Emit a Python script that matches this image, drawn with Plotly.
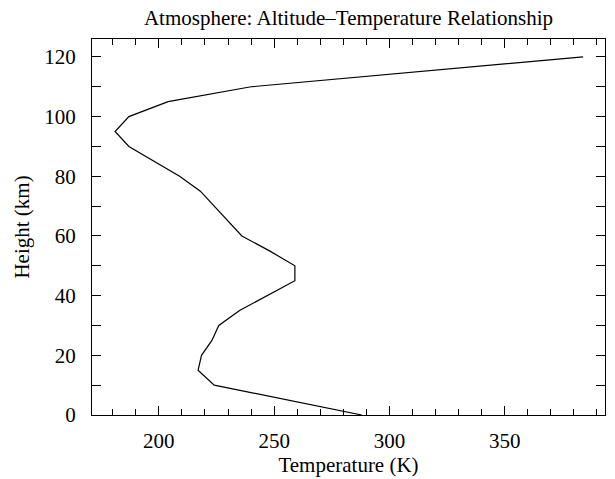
import plotly.graph_objects as go

# Data
height_km = [0, 10, 15, 20, 25, 30, 35, 40, 45, 50, 55, 60, 65, 70, 75, 80, 85, 90, 95, 100, 105, 110, 120]
temperature_k = [288, 224, 217, 218.5, 223, 226, 235, 247, 259, 259, 248, 236, 230, 224, 218, 209, 198, 187, 181, 187, 204, 240, 384]

x_tick_vals = [200, 250, 300, 350]
y_tick_vals = [0, 20, 40, 60, 80, 100, 120]

FONT = "Liberation Serif, Times New Roman, serif"

fig = go.Figure()
fig.add_trace(go.Scatter(
    x=temperature_k, y=height_km, mode="lines",
    line=dict(color="black", width=1.2), showlegend=False,
    hoverinfo="skip",
))

axis_common = dict(
    showgrid=False, zeroline=False, showline=True, linecolor="black",
    linewidth=1, mirror="allticks", ticks="inside", ticklen=9, tickwidth=1,
    tickcolor="black", tickfont=dict(family=FONT, size=21, color="black"),
)

fig.update_xaxes(
    range=[171, 393.5], tickvals=x_tick_vals,
    minor=dict(dtick=10, tick0=0, ticks="inside", ticklen=6, tickcolor="black", tickwidth=1, showgrid=False),
    title=dict(text="Temperature (K)", font=dict(family=FONT, size=21, color="black"), standoff=2),
    ticklabelstandoff=7,
    **axis_common,
)
fig.update_yaxes(
    range=[0, 126], tickvals=y_tick_vals,
    minor=dict(dtick=10, tick0=0, ticks="inside", ticklen=9, tickcolor="black", tickwidth=1, showgrid=False),
    title=dict(text="Height (km)", font=dict(family=FONT, size=21, color="black"), standoff=8),
    ticklabelstandoff=11,
    **axis_common,
)

fig.update_layout(
    width=615, height=479,
    margin=dict(l=92, r=9, t=39, b=55),
    paper_bgcolor="white", plot_bgcolor="white",
    title=dict(text="Atmosphere: Altitude\u2013Temperature Relationship",
               font=dict(family=FONT, size=21, color="black"),
               x=0.5, xref="paper", xanchor="center", y=1, yref="container", yanchor="top", pad=dict(t=10)),
)

fig.write_html("out.html")
